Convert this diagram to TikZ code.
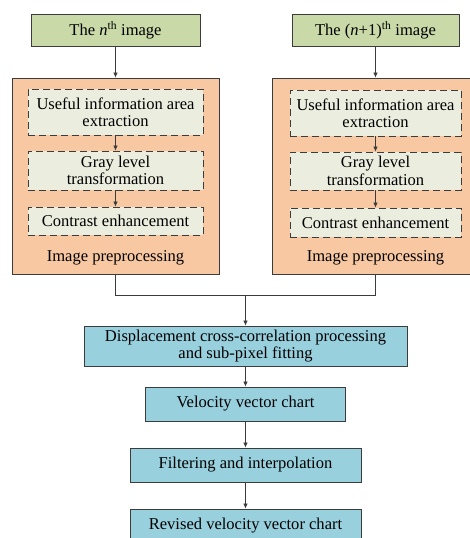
\documentclass[tikz,border=0pt]{standalone}
\usepackage{fontspec}
\setmainfont{Liberation Serif}
\usetikzlibrary{arrows.meta}

\definecolor{imggreen}{HTML}{C9D9A7}
\definecolor{preorange}{HTML}{F8C8A2}
\definecolor{subfill}{HTML}{EBEEDF}
\definecolor{flowcyan}{HTML}{98D0DD}
\definecolor{edgegray}{HTML}{3C3C3C}

\tikzset{
	imgbox/.style={draw=edgegray, line width=0.8bp, fill=imggreen, align=center, inner sep=0pt},
	prebox/.style={draw=edgegray, line width=0.8bp, fill=preorange, inner sep=0pt},
	subbox/.style={draw=edgegray, line width=0.8bp, fill=subfill, dash pattern=on 7bp off 4bp, align=center, inner sep=0pt},
	flowbox/.style={draw=edgegray, line width=0.8bp, fill=flowcyan, align=center, inner sep=0pt},
	flow/.style={draw=edgegray, line width=0.7bp, -{Latex[length=5bp,width=4.5bp]}},
	joinline/.style={draw=edgegray, line width=0.7bp}
}

\begin{document}
\begin{tikzpicture}[x=1bp, y=-1bp, font=\fontsize{16.6}{17.5}\selectfont]
		%%%%% START %%%%%
		\useasboundingbox (0, 0) rectangle (470, 538);
		
		% the two input images
		\node[imgbox, minimum width=169bp, minimum height=32bp] (imgA) at (115.5, 30) {The \textit{n}\textsuperscript{th} image};
		\node[imgbox, minimum width=167bp, minimum height=32bp] (imgB) at (375.5, 30) {The (\textit{n}+1)\textsuperscript{th} image};
		
		% preprocessing blocks
		\node[prebox, minimum width=207bp, minimum height=196bp] (preA) at (115.5, 176) {};
		\node[prebox, minimum width=207bp, minimum height=196bp] (preB) at (375.5, 176) {};
		\node (preAlab) at (115.5, 258) {Image preprocessing};
		\node (preBlab) at (375.5, 258) {Image preprocessing};
		
		\node[subbox, minimum width=175bp, minimum height=46bp] (extA) at (115.5, 112) {Useful information area\\extraction};
		\node[subbox, minimum width=175bp, minimum height=39bp] (grayA) at (115.5, 170.5) {Gray level\\transformation};
		\node[subbox, minimum width=175bp, minimum height=28bp] (contA) at (115.5, 221) {Contrast enhancement};
		
		\node[subbox, minimum width=171bp, minimum height=46bp] (extB) at (375.5, 113) {Useful information area\\extraction};
		\node[subbox, minimum width=171bp, minimum height=38bp] (grayB) at (375.5, 171) {Gray level\\transformation};
		\node[subbox, minimum width=171bp, minimum height=29bp] (contB) at (375.5, 222.5) {Contrast enhancement};
		
		% processing chain
		\coordinate (join) at (245.5, 295);
		\node[flowbox, minimum width=323bp, minimum height=40bp] (xcorr) at (245.5, 346) {Displacement cross-correlation processing\\and sub-pixel fitting};
		\node[flowbox, minimum width=200bp, minimum height=34bp] (vchart) at (245.5, 404) {Velocity vector chart};
		\node[flowbox, minimum width=231bp, minimum height=34bp] (filt) at (245.5, 465) {Filtering and interpolation};
		\node[flowbox, minimum width=231bp, minimum height=34bp] (revised) at (245.5, 526) {Revised velocity vector chart};
		
		% connectors
		\draw[flow] (imgA) -- (preA);
		\draw[flow] (imgB) -- (preB);
		\draw[flow] (extA) -- (grayA);
		\draw[flow] (grayA) -- (contA);
		\draw[flow] (extB) -- (grayB);
		\draw[flow] (grayB) -- (contB);
		
		\draw[joinline] (preA.south) |- (join);
		\draw[joinline] (preB.south) |- (join);
		\draw[flow] (join) -- (xcorr);
		\draw[flow] (xcorr) -- (vchart);
		\draw[flow] (vchart) -- (filt);
		\draw[flow] (filt) -- (revised);
		
		%%%%% END %%%%%
\end{tikzpicture}
\end{document}
